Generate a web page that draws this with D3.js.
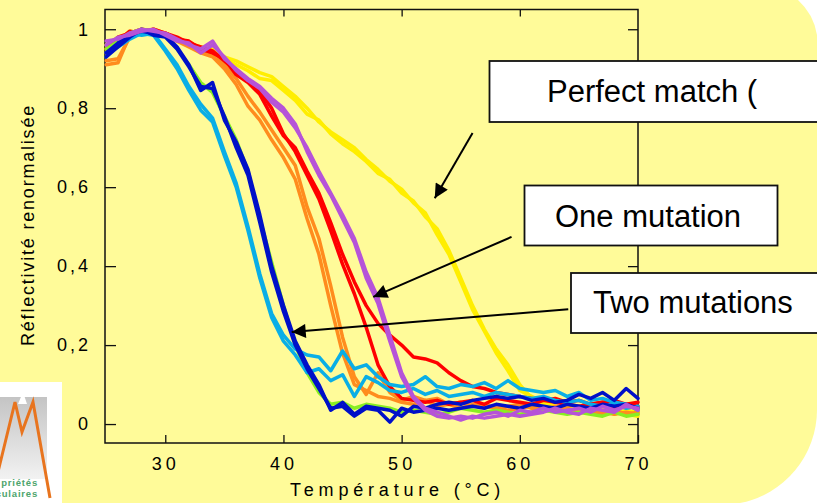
<!DOCTYPE html>
<html lang="fr">
<head>
    <meta charset="UTF-8">
    <title>Réflectivité renormalisée</title>
    <script src="https://cdn.jsdelivr.net/npm/d3@7"></script>
    <style>
        body {
            margin: 0;
            background: #fff;
        }

        svg text {
            font-family: "Liberation Sans", Arial, sans-serif;
            fill: #000;
        }

        .axis text {
            font-size: 18px;
        }

        .y-axis text {
            letter-spacing: 3px;
        }

        .x-axis text {
            letter-spacing: 4px;
        }

        .axis line {
            stroke: #111;
            stroke-width: 1.3px;
        }

        .curve {
            fill: none;
            stroke-width: 3.5px;
            stroke-linejoin: round;
            stroke-linecap: round;
        }

        .callout rect {
            fill: #fff;
            stroke: #111;
            stroke-width: 1.8px;
        }

        .callout text {
            font-size: 31px;
        }
    </style>
</head>
<body>
<svg id="chart" width="817" height="503"></svg>

<script type="text/javascript">
    // temperatures (°C), one reading per degree
    var temps = [25, 26, 27, 28, 29, 30, 31, 32, 33, 34, 35, 36, 37, 38, 39, 40, 41, 42, 43, 44, 45, 46, 47,
        48, 49, 50, 51, 52, 53, 54, 55, 56, 57, 58, 59, 60, 61, 62, 63, 64, 65, 66, 67, 68, 69, 70];

    // perfect match
    var yellowA = [0.96, 0.98, 0.99, 1.0, 0.995, 0.99, 0.975, 0.965, 0.955, 0.95, 0.93, 0.92, 0.905, 0.89, 0.88, 0.855,
        0.83, 0.80, 0.765, 0.74, 0.72, 0.70, 0.67, 0.645, 0.615, 0.595, 0.56, 0.535, 0.48, 0.43, 0.36, 0.29, 0.235,
        0.18, 0.135, 0.085, 0.07, 0.055, 0.045, 0.04, 0.045, 0.035, 0.04, 0.025, 0.035, 0.03];
    var yellowB = [0.95, 0.97, 0.995, 0.99, 1.0, 0.985, 0.97, 0.96, 0.945, 0.96, 0.925, 0.91, 0.895, 0.875, 0.87, 0.845,
        0.82, 0.785, 0.77, 0.735, 0.71, 0.69, 0.665, 0.635, 0.62, 0.585, 0.565, 0.525, 0.495, 0.44, 0.37, 0.30, 0.24,
        0.19, 0.15, 0.10, 0.065, 0.05, 0.04, 0.05, 0.035, 0.04, 0.03, 0.035, 0.025, 0.02];

    // one mutation
    var orangeA = [0.91, 0.915, 0.985, 0.995, 1.0, 0.99, 0.975, 0.96, 0.945, 0.935, 0.91, 0.875, 0.83, 0.79, 0.745, 0.70,
        0.655, 0.55, 0.47, 0.35, 0.22, 0.12, 0.075, 0.13, 0.08, 0.06, 0.07, 0.06, 0.065, 0.05, 0.055, 0.045, 0.05,
        0.04, 0.045, 0.05, 0.04, 0.035, 0.045, 0.04, 0.03, 0.035, 0.03, 0.025, 0.03, 0.025];
    var orangeB = [0.92, 0.925, 0.98, 0.99, 0.995, 0.985, 0.97, 0.955, 0.94, 0.93, 0.90, 0.86, 0.805, 0.77, 0.72, 0.675,
        0.62, 0.52, 0.43, 0.30, 0.18, 0.10, 0.085, 0.07, 0.065, 0.055, 0.05, 0.06, 0.045, 0.05, 0.04, 0.05, 0.045,
        0.04, 0.035, 0.04, 0.045, 0.04, 0.035, 0.03, 0.04, 0.03, 0.025, 0.035, 0.025, 0.03];
    var redA = [0.95, 0.98, 0.99, 1.0, 0.995, 0.99, 0.98, 0.965, 0.955, 0.945, 0.92, 0.895, 0.87, 0.845, 0.80, 0.735,
        0.69, 0.63, 0.57, 0.49, 0.405, 0.33, 0.245, 0.15, 0.095, 0.065, 0.06, 0.055, 0.06, 0.05, 0.055, 0.06, 0.05,
        0.065, 0.06, 0.055, 0.05, 0.06, 0.055, 0.05, 0.045, 0.05, 0.055, 0.04, 0.05, 0.045];
    var redB = [0.94, 0.97, 0.995, 0.99, 1.0, 0.99, 0.975, 0.97, 0.95, 0.94, 0.925, 0.885, 0.865, 0.835, 0.78, 0.73,
        0.70, 0.64, 0.585, 0.51, 0.43, 0.36, 0.30, 0.255, 0.225, 0.20, 0.17, 0.165, 0.155, 0.13, 0.11, 0.095, 0.09,
        0.08, 0.075, 0.07, 0.065, 0.06, 0.065, 0.055, 0.06, 0.05, 0.055, 0.06, 0.05, 0.055];
    var purpleA = [0.97, 0.975, 0.99, 1.0, 0.995, 0.99, 0.975, 0.96, 0.95, 0.97, 0.925, 0.90, 0.875, 0.855, 0.825, 0.80,
        0.76, 0.69, 0.63, 0.58, 0.52, 0.46, 0.37, 0.305, 0.21, 0.12, 0.065, 0.035, 0.02, 0.015, 0.02, 0.015, 0.025,
        0.03, 0.02, 0.035, 0.03, 0.04, 0.03, 0.035, 0.04, 0.03, 0.045, 0.035, 0.045, 0.04];
    var purpleB = [0.96, 0.98, 0.985, 0.995, 1.0, 0.985, 0.97, 0.965, 0.94, 0.96, 0.93, 0.895, 0.87, 0.85, 0.815, 0.79,
        0.75, 0.70, 0.64, 0.585, 0.53, 0.47, 0.385, 0.32, 0.225, 0.13, 0.07, 0.04, 0.03, 0.02, 0.01, 0.02, 0.015,
        0.02, 0.025, 0.02, 0.025, 0.03, 0.04, 0.03, 0.025, 0.04, 0.035, 0.03, 0.05, 0.035];

    // two mutations
    var green = [0.95, 0.97, 0.99, 1.0, 0.995, 0.985, 0.95, 0.91, 0.865, 0.84, 0.78, 0.72, 0.64, 0.52, 0.41, 0.30,
        0.20, 0.13, 0.08, 0.05, 0.055, 0.04, 0.05, 0.045, 0.04, 0.03, 0.035, 0.03, 0.025, 0.03, 0.04, 0.035, 0.03,
        0.035, 0.03, 0.025, 0.03, 0.035, 0.03, 0.025, 0.03, 0.025, 0.02, 0.03, 0.02, 0.025];
    var cyanA = [0.93, 0.96, 0.99, 0.985, 0.99, 0.95, 0.91, 0.855, 0.81, 0.775, 0.69, 0.61, 0.50, 0.38, 0.28, 0.225,
        0.19, 0.175, 0.17, 0.135, 0.185, 0.14, 0.15, 0.12, 0.10, 0.095, 0.10, 0.12, 0.095, 0.09, 0.10, 0.095, 0.105,
        0.09, 0.11, 0.09, 0.085, 0.08, 0.085, 0.07, 0.08, 0.06, 0.065, 0.055, 0.05, 0.035];
    var cyanB = [0.94, 0.955, 0.975, 0.99, 0.985, 0.945, 0.90, 0.845, 0.795, 0.765, 0.68, 0.60, 0.49, 0.37, 0.27, 0.21,
        0.175, 0.13, 0.14, 0.11, 0.125, 0.07, 0.12, 0.105, 0.085, 0.08, 0.09, 0.075, 0.085, 0.07, 0.075, 0.08, 0.07,
        0.08, 0.075, 0.07, 0.065, 0.07, 0.06, 0.055, 0.06, 0.05, 0.045, 0.05, 0.04, 0.045];
    var blueA = [0.94, 0.965, 0.985, 0.995, 0.99, 0.985, 0.955, 0.91, 0.845, 0.865, 0.77, 0.715, 0.645, 0.53, 0.40, 0.30,
        0.21, 0.15, 0.10, 0.035, 0.055, 0.025, 0.045, 0.04, 0.035, 0.02, 0.045, 0.04, 0.05, 0.055, 0.05, 0.06, 0.065,
        0.07, 0.065, 0.07, 0.06, 0.065, 0.055, 0.06, 0.075, 0.065, 0.08, 0.06, 0.09, 0.065];
    var blueB = [0.93, 0.955, 0.98, 1.0, 0.985, 0.98, 0.95, 0.905, 0.855, 0.85, 0.78, 0.70, 0.63, 0.51, 0.385, 0.285,
        0.20, 0.14, 0.09, 0.04, 0.045, 0.02, 0.04, 0.035, 0.005, 0.04, 0.03, 0.035, 0.04, 0.035, 0.04, 0.045, 0.04,
        0.05, 0.045, 0.04, 0.05, 0.045, 0.04, 0.05, 0.045, 0.04, 0.05, 0.045, 0.05, 0.04];

    var curves = [
        {values: yellowA, color: '#FFEE00'},
        {values: yellowB, color: '#FFEE00'},
        {values: orangeA, color: '#FF8C1E'},
        {values: orangeB, color: '#FF8C1E'},
        {values: redA, color: '#FF0000'},
        {values: redB, color: '#FF0000'},
        {values: green, color: '#88EE22'},
        {values: cyanA, color: '#0AAEE6'},
        {values: cyanB, color: '#0AAEE6'},
        {values: blueA, color: '#0010C8'},
        {values: blueB, color: '#0010C8'},
        {values: purpleA, color: '#B653D8'},
        {values: purpleB, color: '#B653D8'}
    ];

    var yTicks = [0, 0.2, 0.4, 0.6, 0.8, 1];
    var yTickLabels = ['0', '0,2', '0,4', '0,6', '0,8', '1'];
    var xTicks = [30, 40, 50, 60, 70];
    var xTopTicks = [30, 40, 50, 60];

    // callouts: label, arrow tail and tip in data units
    var calloutLabels = ['Perfect match (', 'One mutation', 'Two mutations'];
    var arrowTails = [[56.0, 0.737], [59.3, 0.474], [64.1, 0.291]];
    var arrowTips = [[52.8, 0.572], [47.6, 0.322], [40.7, 0.233]];

    var svg = d3.select('#chart');
    var W = 817, H = 503;
    var plot = {left: 105, right: 638, top: 9.5, bottom: 443};

    var x = d3.scaleLinear().domain([24.9, 70]).range([plot.left, plot.right]);
    var y = d3.scaleLinear().domain([-0.048, 1.05]).range([plot.bottom, plot.top]);

    // page background: yellow slide with rounded right corners
    svg.append('rect').attr('width', W).attr('height', H).attr('fill', '#fff');
    svg.append('path')
        .attr('d', 'M0,0 L798,0 A60,60 0 0 1 817,35 L817,410 A95,95 0 0 1 740,503 L0,503 Z')
        .attr('fill', '#FFFB99');

    var defs = svg.append('defs');
    defs.append('marker')
        .attr('id', 'arrowhead')
        .attr('viewBox', '0 0 10 10')
        .attr('refX', 10).attr('refY', 5)
        .attr('markerWidth', 17).attr('markerHeight', 14)
        .attr('markerUnits', 'userSpaceOnUse')
        .attr('orient', 'auto')
        .append('path').attr('d', 'M0,0 L10,5 L0,10 Z').attr('fill', '#000');
    var grad = defs.append('linearGradient').attr('id', 'logoGray')
        .attr('x1', 0).attr('y1', 0).attr('x2', 0).attr('y2', 1);
    grad.append('stop').attr('offset', '0%').attr('stop-color', '#c4c4c4');
    grad.append('stop').attr('offset', '100%').attr('stop-color', '#f2f2f2');

    // logo, bottom left
    var logo = svg.append('g');
    logo.append('rect').attr('x', 0).attr('y', 382).attr('width', 62).attr('height', 121).attr('fill', '#fff');
    logo.append('rect').attr('x', 0).attr('y', 397).attr('width', 47).attr('height', 82).attr('fill', 'url(#logoGray)');
    logo.append('path').attr('d', 'M18,404 L23,392 L27,404 Z').attr('fill', '#fff');
    logo.append('path')
        .attr('d', 'M-2,472 L15,402 L22,432 L33,402 L50,498')
        .attr('fill', 'none').attr('stroke', '#E8741E').attr('stroke-width', 3);
    logo.selectAll('text.logo')
        .data(['priétés', 'culaires'])
        .enter().append('text')
        .attr('x', 38).attr('y', (d, i) => 486 + i * 11)
        .attr('text-anchor', 'end')
        .style('font-size', '9.5px').style('font-weight', 'bold').style('fill', '#4DA46C')
        .style('letter-spacing', '0.8px')
        .text(d => d);

    // axes (ticks point inward, mirrored on all four sides)
    svg.append('g')
        .attr('class', 'axis y-axis')
        .attr('transform', 'translate(' + plot.left + ',0)')
        .call(d3.axisLeft(y).tickValues(yTicks).tickSize(-11).tickPadding(14)
            .tickFormat((d, i) => yTickLabels[i]))
        .call(g => g.select('.domain').remove());
    svg.append('g')
        .attr('class', 'axis')
        .attr('transform', 'translate(' + plot.right + ',0)')
        .call(d3.axisRight(y).tickValues(yTicks).tickSize(-10).tickFormat(''))
        .call(g => g.select('.domain').remove());
    svg.append('g')
        .attr('class', 'axis x-axis')
        .attr('transform', 'translate(0,' + plot.bottom + ')')
        .call(d3.axisBottom(x).tickValues(xTicks).tickSize(-8).tickPadding(14).tickFormat(d3.format('d')))
        .call(g => g.select('.domain').remove());
    svg.append('g')
        .attr('class', 'axis')
        .attr('transform', 'translate(0,' + plot.top + ')')
        .call(d3.axisTop(x).tickValues(xTopTicks).tickSize(-7).tickFormat(''))
        .call(g => g.select('.domain').remove());

    svg.append('rect')
        .attr('x', plot.left).attr('y', plot.top)
        .attr('width', plot.right - plot.left).attr('height', plot.bottom - plot.top)
        .attr('fill', 'none').attr('stroke', '#111').attr('stroke-width', 1.5);

    svg.append('text')
        .attr('x', 290).attr('y', 496)
        .style('font-size', '18px').style('letter-spacing', '4.8px')
        .text('Température (°C)');
    svg.append('text')
        .attr('transform', 'translate(34,225) rotate(-90)')
        .attr('text-anchor', 'middle')
        .style('font-size', '18px').style('letter-spacing', '1.8px')
        .text('Réflectivité renormalisée');

    // melting curves
    var line = d3.line()
        .x((d, i) => x(temps[i]))
        .y(d => y(d));
    svg.append('g')
        .selectAll('path')
        .data(curves)
        .enter().append('path')
        .attr('class', 'curve')
        .attr('stroke', d => d.color)
        .attr('d', d => line(d.values));

    // arrows
    svg.append('g')
        .selectAll('line')
        .data(arrowTails)
        .enter().append('line')
        .attr('x1', d => x(d[0])).attr('y1', d => y(d[1]))
        .attr('x2', (d, i) => x(arrowTips[i][0])).attr('y2', (d, i) => y(arrowTips[i][1]))
        .attr('stroke', '#000').attr('stroke-width', 2)
        .attr('marker-end', 'url(#arrowhead)');

    // callout boxes (run off the right edge of the slide)
    var boxes = [
        {x: 489.5, y: 61, w: 345, h: 61, tx: 547, ty: 102},
        {x: 524.5, y: 185.5, w: 253, h: 60, tx: 555, ty: 227},
        {x: 571, y: 273, w: 260, h: 60, tx: 593, ty: 313}
    ];
    var callout = svg.append('g')
        .selectAll('g')
        .data(boxes)
        .enter().append('g')
        .attr('class', 'callout');
    callout.append('rect')
        .attr('x', d => d.x).attr('y', d => d.y)
        .attr('width', d => d.w).attr('height', d => d.h);
    callout.append('text')
        .attr('x', d => d.tx).attr('y', d => d.ty)
        .text((d, i) => calloutLabels[i]);
</script>
</body>
</html>
